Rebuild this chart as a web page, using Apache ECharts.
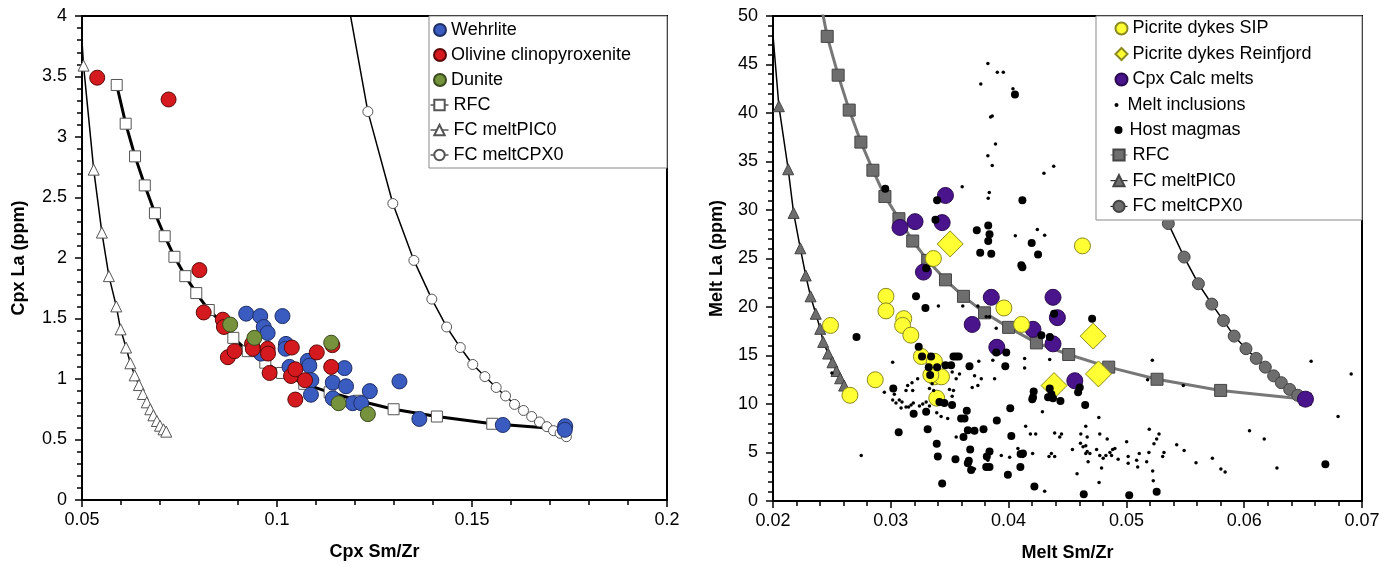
<!DOCTYPE html>
<html>
<head>
<meta charset="utf-8">
<script src="https://cdn.jsdelivr.net/npm/echarts@6/dist/echarts.min.js"></script>
<style>
html, body { margin: 0; padding: 0; background: #fff; }
#chart { width: 1395px; height: 568px; }
</style>
</head>
<body>
<div id="chart"></div>
<script>
// ---- left panel: Cpx Sm/Zr vs Cpx La ----
const wehrlite = [[0.0921,1.54],[0.0957,1.52],[0.1014,1.52],[0.0966,1.43],[0.0976,1.38],[0.1023,1.29],[0.1022,1.25],[0.0959,1.21],
  [0.1079,1.15],[0.1083,1.11],[0.1032,1.10],[0.1088,0.99],[0.1173,1.09],[0.1143,0.97],[0.1177,0.94],[0.1087,0.87],[0.1143,0.84],
  [0.1194,0.80],[0.1216,0.80],[0.1238,0.90],[0.1314,0.98],[0.1365,0.67],[0.1579,0.62],[0.1739,0.61],[0.1738,0.58]]
const olivineCpx = [[0.0539,3.49],[0.0722,3.31],[0.0801,1.90],[0.0812,1.55],[0.0861,1.49],[0.0864,1.43],[0.0874,1.18],[0.0891,1.23],
  [0.0936,1.29],[0.0938,1.25],[0.0976,1.25],[0.0977,1.21],[0.0981,1.05],[0.1038,1.26],[0.1036,1.025],[0.1047,1.08],[0.1072,0.99],
  [0.1047,0.83],[0.1102,1.22],[0.1139,1.10],[0.1142,1.28]]
const dunite = [[0.0880,1.45],[0.0942,1.34],[0.1139,1.30],[0.1158,0.80],[0.1233,0.71]]
const rfcL = [[0.0589,3.43],[0.0612,3.11],[0.0636,2.84],[0.0661,2.60],[0.0687,2.37],[0.0712,2.18],[0.0737,2.01],[0.0765,1.85],
  [0.0793,1.71],[0.0825,1.57],[0.0861,1.46],[0.0888,1.34],[0.0925,1.23],[0.0970,1.135],[0.1013,1.05],[0.1070,0.96],[0.1135,0.89],
  [0.1210,0.82],[0.1299,0.75],[0.1410,0.69],[0.1552,0.63],[0.1735,0.585]]
const picL = [[0.0497,3.95],[0.0504,3.59],[0.0530,2.73],[0.0551,2.21],[0.0569,1.85],[0.0588,1.60],[0.0599,1.41],[0.0613,1.26],
  [0.0624,1.13],[0.0635,1.03],[0.0646,0.95],[0.0656,0.876],[0.0666,0.807],[0.0675,0.75],[0.0683,0.70],[0.0692,0.653],
  [0.0700,0.614],[0.0709,0.584],[0.0716,0.565]]
const cpxL = [[0.1183,4.1],[0.1233,3.21],[0.1297,2.45],[0.1351,1.98],[0.1397,1.66],[0.1435,1.43],[0.1470,1.26],[0.1502,1.12],
  [0.1533,1.02],[0.1562,0.93],[0.1586,0.86],[0.1609,0.79],[0.1632,0.74],[0.1653,0.69],[0.1673,0.645],[0.1692,0.606],
  [0.1709,0.573],[0.1726,0.551],[0.1742,0.523]]

// ---- right panel: Melt Sm/Zr vs Melt La ----
const picriteSIP = [[0.04627,26.3],[0.03362,25.0],[0.02959,21.1],[0.02959,19.6],[0.0311,18.8],[0.0310,18.1],[0.0317,17.1],
  [0.0396,19.9],[0.0411,18.2],[0.02488,18.1],[0.0326,14.9],[0.0337,14.4],[0.0337,12.8],[0.0343,12.8],[0.0334,13.0],
  [0.0339,10.6],[0.02868,12.5],[0.02653,10.9]]
const picriteReinfjord = [[0.03504,26.5],[0.04718,17.0],[0.04763,13.1],[0.04386,11.9]]
const cpxCalc = [[0.03464,31.5],[0.03206,28.8],[0.03436,28.7],[0.03078,28.2],[0.03277,23.6],[0.03853,21.0],[0.04377,21.0],
  [0.03691,18.2],[0.04207,17.7],[0.04414,18.9],[0.04377,16.2],[0.0390,15.85],[0.04562,12.4],[0.0652,10.5]]
const meltInclusions = [[0.03824,45.1],[0.03904,44.2],[0.03955,44.2],[0.03764,43.0],[0.04037,42.5],[0.03847,39.6],[0.03861,39.7],
  [0.03889,36.8],[0.03824,35.6],[0.03861,34.6],[0.0430,33.8],[0.04383,34.5],[0.03606,32.4],[0.03836,31.8],[0.03827,31.2],
  [0.04057,27.35],[0.04244,28.0],[0.04306,27.4],[0.03404,20.1],[0.03611,20.1],[0.03739,20.1],[0.03895,17.8],[0.0381,19.0],
  [0.03838,19.0],[0.03016,14.3],[0.03747,14.4],[0.03866,14.5],[0.04136,14.7],[0.04136,13.7],[0.04349,14.6],[0.03881,12.6],
  [0.03768,12.6],[0.03711,12.9],[0.03583,13.1],[0.03555,12.6],[0.03739,11.9],[0.03691,11.7],[0.03228,12.6],[0.0318,12.2],
  [0.03186,11.4],[0.03129,11.4],[0.03143,11.9],[0.02945,11.2],[0.0303,11.0],[0.03016,10.4],[0.03072,10.4],[0.03095,10.2],
  [0.03044,10.1],[0.03087,9.6],[0.03129,9.7],[0.03151,9.7],[0.03172,9.9],[0.03191,10.1],[0.03243,9.8],[0.03271,10.0],
  [0.0330,10.2],[0.03328,9.8],[0.03351,12.1],[0.03364,11.4],[0.03328,11.6],[0.0339,9.1],[0.03427,8.7],[0.03483,8.5],
  [0.03498,11.5],[0.03532,11.4],[0.03521,10.8],[0.03521,13.3],[0.0250,13.2],[0.02749,4.7],[0.03555,6.6],[0.04145,7.7],
  [0.04185,6.9],[0.0423,6.9],[0.04391,7.0],[0.04287,9.2],[0.04079,5.4],[0.04122,4.6],[0.04204,4.9],[0.04343,4.6],
  [0.04363,4.9],[0.03938,4.7],[0.04009,4.5],[0.03711,3.3],[0.03824,4.2],[0.03413,4.6],[0.04306,1.0],[0.0522,14.5],
  [0.0518,12.5],[0.05483,11.9],[0.04766,8.6],[0.04655,7.7],[0.04434,6.6],[0.04449,6.9],[0.04613,6.9],[0.04667,6.6],
  [0.04774,6.9],[0.04837,6.4],[0.05194,7.4],[0.05277,6.9],[0.05257,6.4],[0.05234,5.9],[0.05427,5.8],[0.05002,6.1],
  [0.0461,5.95],[0.04632,5.6],[0.04655,5.7],[0.04542,5.3],[0.04667,5.1],[0.0469,4.9],[0.04747,5.3],[0.04774,4.7],
  [0.04803,4.4],[0.04826,4.7],[0.0486,5.0],[0.04883,5.3],[0.04902,5.4],[0.0493,4.3],[0.04874,4.7],[0.05015,4.6],
  [0.05015,3.9],[0.05087,4.2],[0.05109,4.9],[0.05172,4.05],[0.05191,5.0],[0.05308,4.6],[0.05319,5.0],[0.04675,4.05],
  [0.04655,4.9],[0.05223,3.1],[0.05096,3.5],[0.04581,2.8],[0.04768,1.9],[0.05228,2.1],[0.04789,3.4],[0.0549,5.2],
  [0.05591,3.95],[0.04391,4.6],[0.06568,14.4],[0.06908,13.1],[0.06797,8.7],[0.06045,7.25],[0.0617,6.4],[0.06278,3.4],
  [0.05802,3.3],[0.05838,3.0],[0.0573,4.4]]
const hostMagmas = [[0.04054,41.9],[0.02953,32.2],[0.03393,31.0],[0.04117,31.0],[0.03379,29.0],[0.0373,27.9],[0.03827,28.4],
  [0.03838,27.5],[0.03827,26.8],[0.03759,25.6],[0.03853,25.5],[0.04196,26.6],[0.0425,25.4],[0.04108,24.3],[0.04117,24.1],
  [0.0330,24.0],[0.03214,21.1],[0.03294,19.9],[0.02709,16.9],[0.04386,19.3],[0.04278,17.1],[0.0435,16.9],[0.04709,18.8],
  [0.03067,7.1],[0.03021,11.6],[0.03194,9.0],[0.03313,7.4],[0.0330,9.2],[0.03237,15.9],[0.03265,14.9],[0.03342,14.9],
  [0.03322,13.8],[0.03393,13.8],[0.03334,13.0],[0.0339,5.9],[0.03399,4.6],[0.03436,1.8],[0.03413,10.2],[0.03455,10.1],
  [0.0352,9.9],[0.03464,14.0],[0.03512,14.0],[0.03532,14.9],[0.03555,14.9],[0.03577,14.9],[0.03668,13.9],[0.03549,4.3],
  [0.03597,8.5],[0.03626,8.5],[0.03645,9.3],[0.03654,7.3],[0.0371,7.25],[0.03617,6.6],[0.03674,5.3],[0.03662,4.15],
  [0.03682,3.2],[0.03654,3.9],[0.03787,7.4],[0.03815,4.6],[0.03838,5.1],[0.0381,3.5],[0.03838,3.5],[0.0390,8.3],
  [0.03895,15.3],[0.0398,15.3],[0.03972,13.9],[0.04014,9.55],[0.04023,6.7],[0.03994,2.7],[0.04102,4.85],[0.04122,4.9],
  [0.0410,3.5],[0.04219,1.5],[0.04201,10.5],[0.04213,11.3],[0.04207,10.7],[0.04349,11.6],[0.04363,11.0],[0.04335,10.7],
  [0.04377,10.6],[0.0444,10.3],[0.04604,11.7],[0.0459,11.2],[0.0465,9.9],[0.04638,0.7],[0.05024,0.6],[0.05257,0.96],
  [0.06689,3.8]]
const rfcR = [[0.0241,51],[0.0246,47.9],[0.02553,43.9],[0.02647,40.3],[0.02746,37.0],[0.02848,34.1],[0.0295,31.4],[0.03069,29.1],
  [0.03186,26.8],[0.03313,24.8],[0.03464,22.8],[0.03617,21.1],[0.03796,19.4],[0.0400,17.9],[0.04236,16.3],[0.0451,15.1],
  [0.0485,13.8],[0.0526,12.55],[0.0580,11.4],[0.0652,10.5]]
const picR = [[0.0199,49.5],[0.0205,40.7],[0.02129,34.2],[0.02175,29.7],[0.02232,26.05],[0.02278,23.25],[0.02319,21.1],
  [0.02363,19.3],[0.02401,17.75],[0.02426,16.4],[0.02468,15.2],[0.02505,14.3],[0.02539,13.4],[0.0257,12.65],[0.02604,11.9]]
const cpxR = [[0.0490,50.5],[0.0505,40.0],[0.05356,28.6],[0.0549,25.15],[0.05611,22.4],[0.05725,20.3],[0.05824,18.6],
  [0.05915,17.0],[0.06015,15.7],[0.06102,14.7],[0.06179,13.8],[0.0625,12.9],[0.06315,12.2],[0.06386,11.5],[0.06454,10.9],
  [0.0652,10.5]]

const FONT = 'Liberation Sans, Arial, sans-serif'

const makeAxis = (gridIndex, min, max, interval, name, nameGap, vertical) => ({
    type: 'value', gridIndex, min, max, interval,
    name, nameLocation: 'middle', nameGap,
    nameTextStyle: { fontFamily: FONT, fontSize: 18, fontWeight: 'bold', color: '#000' },
    axisLine: { show: true, onZero: false, lineStyle: { color: '#000', width: 2 } },
    axisTick: { show: true, length: 7, lineStyle: { color: '#000', width: 1.5 } },
    minorTick: { show: true, splitNumber: 5, length: 5, lineStyle: { color: '#000', width: 1.5 } },
    splitLine: { show: false },
    axisLabel: { fontFamily: FONT, fontSize: 18, color: '#000', margin: vertical ? 15 : 11 }
})

const legendBlock = (names, left, top, w, h, gap) => ({
    data: names, orient: 'vertical', left, top,
    itemWidth: w, itemHeight: h, itemGap: gap, padding: 0,
    selectedMode: false,
    formatter: n => n.trim(),
    lineStyle: { width: 1 },
    textStyle: { fontFamily: FONT, fontSize: 18, color: '#000', lineHeight: 18 }
})

const openMark = { color: '#fff', borderColor: '#555', borderWidth: 1 }
const grayMark = { color: '#6e6e6e', borderColor: '#444', borderWidth: 1 }

const curve = (name, axis, data, symbol, size, itemStyle, lineColor, lineWidth) => ({
    name, type: 'line', xAxisIndex: axis, yAxisIndex: axis, data,
    symbol, symbolSize: size, showAllSymbol: true, clip: true,
    itemStyle, lineStyle: { color: lineColor, width: lineWidth }, z: 2
})
const dots = (name, axis, data, symbol, size, color, border, z) => ({
    name, type: 'scatter', xAxisIndex: axis, yAxisIndex: axis, data,
    symbol, symbolSize: size,
    itemStyle: { color, borderColor: border, borderWidth: border ? 1 : 0, opacity: 1 }, z
})

const option = {
    animation: false,
    backgroundColor: '#fff',
    grid: [
        { left: 82, top: 16, width: 585, height: 484, show: true, borderColor: '#000', borderWidth: 2, backgroundColor: 'transparent' },
        { left: 773, top: 16, width: 589, height: 485, show: true, borderColor: '#000', borderWidth: 2, backgroundColor: 'transparent' }
    ],
    xAxis: [
        makeAxis(0, 0.05, 0.2, 0.05, 'Cpx Sm/Zr', 43, false),
        makeAxis(1, 0.02, 0.07, 0.01, 'Melt Sm/Zr', 43, false)
    ],
    yAxis: [
        makeAxis(0, 0, 4, 0.5, 'Cpx La (ppm)', 54, true),
        makeAxis(1, 0, 50, 5, 'Melt La (ppm)', 47, true)
    ],
    graphic: [
        { type: 'rect', shape: { x: 429, y: 16, width: 238, height: 152 }, style: { fill: '#fff', stroke: '#888', lineWidth: 1 }, z: 3 },
        { type: 'rect', shape: { x: 1096, y: 16, width: 266, height: 204 }, style: { fill: '#fff', stroke: '#888', lineWidth: 1 }, z: 3 }
    ],
    legend: [
        legendBlock(['Wehrlite', 'Olivine clinopyroxenite', 'Dunite'], 433, 21, 12, 12, 7),
        legendBlock(['RFC', 'FC meltPIC0', 'FC meltCPX0'], 430, 96, 18, 13, 7),
        legendBlock(['Picrite dykes SIP', 'Picrite dykes Reinfjord', 'Cpx Calc melts'], 1114.5, 19.5, 12, 12, 7.5),
        legendBlock(['Melt inclusions'], 1114.5, 96, 12, 4, 7),
        legendBlock(['Host magmas'], 1114.5, 121, 12, 8, 7),
        legendBlock(['RFC ', 'FC meltPIC0 ', 'FC meltCPX0 '], 1110, 146, 17, 14, 7.7)
    ],
    series: [
        curve('RFC', 0, rfcL, 'rect', 11, openMark, '#000', 3),
        curve('FC meltPIC0', 0, picL, 'triangle', 11, openMark, '#000', 1.5),
        curve('FC meltCPX0', 0, cpxL, 'circle', 10, openMark, '#000', 1.5),
        dots('Wehrlite', 0, wehrlite, 'circle', 15, '#3a5bbf', '#1f2f66', 5),
        dots('Olivine clinopyroxenite', 0, olivineCpx, 'circle', 15, '#d41a1e', '#5a0a0a', 5),
        dots('Dunite', 0, dunite, 'circle', 15, '#76923c', '#3a4a1e', 5),

        curve('RFC ', 1, rfcR, 'rect', 12, grayMark, '#777', 3),
        curve('FC meltPIC0 ', 1, picR, 'triangle', 11, grayMark, '#000', 1.5),
        curve('FC meltCPX0 ', 1, cpxR, 'circle', 12, grayMark, '#000', 1.5),
        dots('Cpx Calc melts', 1, cpxCalc, 'circle', 16, '#4a148c', '#2a0a50', 5),
        dots('Picrite dykes SIP', 1, picriteSIP, 'circle', 16, '#ffff33', '#8a8a20', 5),
        dots('Picrite dykes Reinfjord', 1, picriteReinfjord, 'diamond', 26, '#ffff33', '#8a8a20', 5),
        dots('Host magmas', 1, hostMagmas, 'circle', 8, '#000', null, 6),
        dots('Melt inclusions', 1, meltInclusions, 'circle', 3.5, '#000', null, 6)
    ]
}

const chart = echarts.init(document.getElementById('chart'))
chart.setOption(option)
</script>
</body>
</html>
